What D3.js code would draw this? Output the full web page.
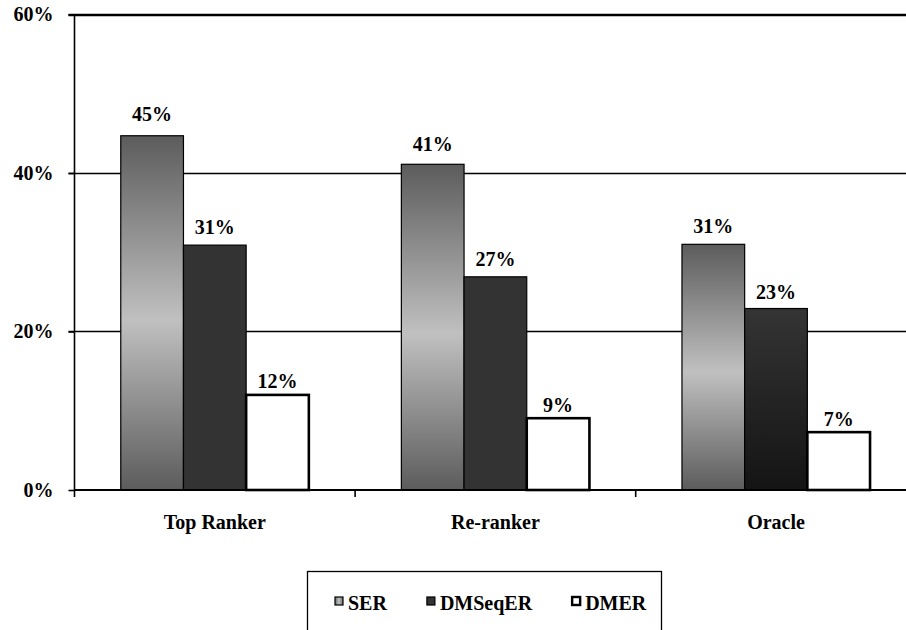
<!DOCTYPE html>
<html>
<head>
<meta charset="utf-8">
<script src="https://cdn.jsdelivr.net/npm/d3@7"></script>
<style>
  html, body { margin: 0; padding: 0; background: #fff; }
  svg { display: block; }
  svg text { font-family: "Liberation Serif", "Times New Roman", Tinos, "DejaVu Serif", "Noto Serif", serif !important; font-weight: bold; fill: #000; }
</style>
</head>
<body>
<svg id="chart" width="906" height="630"></svg>
<script>
// Error rates per system
const categories = ["Top Ranker", "Re-ranker", "Oracle"];
const seriesNames = ["SER", "DMSeqER", "DMER"];
const serValues = [0.447, 0.411, 0.310];
const dmseqerValues = [0.309, 0.269, 0.229];
const dmerValues = [0.120, 0.0906, 0.073];
const yTicks = [0, 0.2, 0.4, 0.6];

const seriesValues = [serValues, dmseqerValues, dmerValues];
const FONT = "'Liberation Serif', 'Times New Roman', Tinos, 'DejaVu Serif', 'Noto Serif', serif";

const svg = d3.select("#chart");
const W = 906, H = 630;
const margin = { left: 74.5, top: 14.5, bottom: 140 };
const plotRight = 916.3;
const y0 = H - margin.bottom;

const defs = svg.append("defs");
// SER: dark – light – dark vertical shading
const serGrad = defs.append("linearGradient").attr("id", "gradSER")
  .attr("x1", 0).attr("y1", 0).attr("x2", 0).attr("y2", 1);
serGrad.append("stop").attr("offset", "0%").attr("stop-color", "#5c5c5c");
serGrad.append("stop").attr("offset", "52%").attr("stop-color", "#c0c0c0");
serGrad.append("stop").attr("offset", "100%").attr("stop-color", "#5c5c5c");
// Legend swatch for SER (horizontal shading)
const serGradH = defs.append("linearGradient").attr("id", "gradSERh")
  .attr("x1", 0).attr("y1", 0).attr("x2", 1).attr("y2", 0);
serGradH.append("stop").attr("offset", "0%").attr("stop-color", "#6a6a6a");
serGradH.append("stop").attr("offset", "50%").attr("stop-color", "#c0c0c0");
serGradH.append("stop").attr("offset", "100%").attr("stop-color", "#6a6a6a");
// Darkening shade used on the last DMSeqER bar
const dmGrad = defs.append("linearGradient").attr("id", "gradDM")
  .attr("x1", 0).attr("y1", 0).attr("x2", 0).attr("y2", 1);
dmGrad.append("stop").attr("offset", "0%").attr("stop-color", "#343434");
dmGrad.append("stop").attr("offset", "100%").attr("stop-color", "#141414");

const fills = {
  SER: () => "url(#gradSER)",
  DMSeqER: (i) => i === 2 ? "url(#gradDM)" : "#333333",
  DMER: () => "#ffffff"
};
const strokeW = { SER: 1.2, DMSeqER: 1.2, DMER: 2.6 };

const x0 = d3.scaleBand().domain(categories).range([margin.left, plotRight]).padding(0);
const x1 = d3.scaleBand().domain(seriesNames).range([0, x0.bandwidth()])
  .paddingInner(0).paddingOuter(0.738);
const y = d3.scaleLinear().domain([0, 0.6]).range([y0, margin.top]);
// label baseline positions rise a little faster than the bars
const yLabel = d3.scaleLinear().domain([0, 0.6]).range([y0 - 4, y0 - 4 - 489.6]);

// gridlines
svg.append("g").selectAll("line").data(yTicks.filter(d => d > 0)).join("line")
  .attr("x1", margin.left - 6).attr("x2", W)
  .attr("y1", d => Math.round(y(d)) + 0.5).attr("y2", d => Math.round(y(d)) + 0.5)
  .attr("stroke", "#000").attr("stroke-width", 1.3);

// y axis
const yAxis = d3.axisLeft(y).tickValues(yTicks).tickFormat(d3.format(".0%")).tickSize(6).tickPadding(15);
const gy = svg.append("g").attr("transform", `translate(${margin.left},0)`).call(yAxis)
  .attr("font-family", FONT).attr("font-size", 20);
gy.select(".domain").attr("stroke", "#000").attr("stroke-width", 1.6).attr("d", `M0,${margin.top}V${y0}`);
gy.selectAll(".tick line").attr("stroke", "#000").attr("stroke-width", 1.6);
gy.selectAll(".tick text").attr("font-size", 20).attr("font-family", FONT).attr("font-weight", "bold").attr("fill", "#000");

// bars
const groups = svg.append("g").selectAll("g").data(categories).join("g")
  .attr("transform", d => `translate(${x0(d)},0)`);

groups.each(function(cat, ci) {
  const g = d3.select(this);
  seriesNames.forEach((s, si) => {
    const v = seriesValues[si][ci];
    g.append("rect")
      .attr("x", x1(s)).attr("width", x1.bandwidth())
      .attr("y", y(v)).attr("height", y0 - y(v))
      .attr("fill", fills[s](ci))
      .attr("stroke", "#000").attr("stroke-width", strokeW[s]);
    g.append("text")
      .attr("x", x1(s) + x1.bandwidth() / 2)
      .attr("y", yLabel(v))
      .attr("text-anchor", "middle").attr("font-size", 20).attr("font-family", FONT)
      .text(d3.format(".0%")(v));
  });
});

// x axis
const xAxis = d3.axisBottom(x0).tickSize(0).tickPadding(0);
const gx = svg.append("g").attr("transform", `translate(0,${y0})`).call(xAxis)
  .attr("font-family", FONT);
gx.select(".domain").remove();
gx.selectAll(".tick text").remove();
gx.append("line").attr("x1", margin.left).attr("x2", W).attr("y1", 0).attr("y2", 0)
  .attr("stroke", "#000").attr("stroke-width", 2.2);
gx.selectAll(".bound").data(categories).join("line").attr("class", "bound")
  .attr("x1", d => x0(d)).attr("x2", d => x0(d)).attr("y1", 0).attr("y2", 7)
  .attr("stroke", "#000").attr("stroke-width", 1.6);
gx.selectAll(".cat").data(categories).join("text").attr("class", "cat")
  .attr("x", d => x0(d) + x0.bandwidth() / 2).attr("y", 39)
  .attr("text-anchor", "middle").attr("font-size", 20).attr("font-family", FONT)
  .text(d => d);

// top border
svg.append("line").attr("x1", margin.left - 6).attr("x2", W)
  .attr("y1", margin.top).attr("y2", margin.top)
  .attr("stroke", "#000").attr("stroke-width", 1.6);

// legend
const legend = svg.append("g");
legend.append("rect").attr("x", 307.5).attr("y", 571.5).attr("width", 354).attr("height", 80)
  .attr("fill", "#fff").attr("stroke", "#000").attr("stroke-width", 1.3);
const legendFills = { SER: "url(#gradSERh)", DMSeqER: "#333333", DMER: "#ffffff" };
let lx = 335;
seriesNames.forEach(s => {
  legend.append("rect").attr("x", lx).attr("y", 597).attr("width", 8).attr("height", 8)
    .attr("fill", legendFills[s]).attr("stroke", "#000").attr("stroke-width", s === "DMER" ? 2.4 : 1.2);
  const t = legend.append("text").attr("x", lx + 13).attr("y", 610).attr("font-size", 20)
    .attr("font-family", FONT).text(s);
  lx = lx + 13 + t.node().getComputedTextLength() + 40;
});
</script>
</body>
</html>
